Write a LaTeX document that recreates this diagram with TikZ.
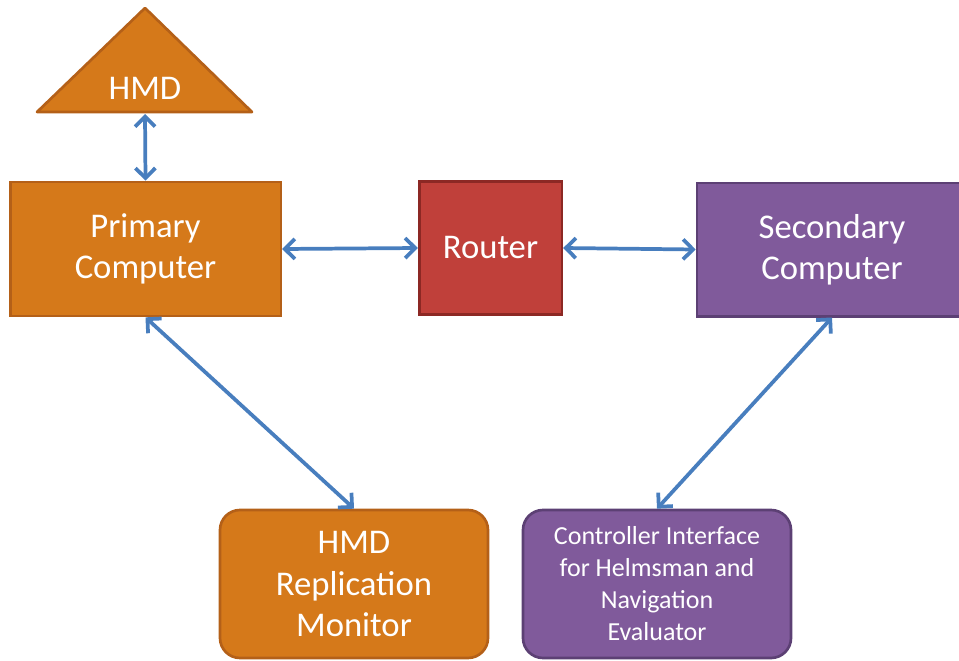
\documentclass[tikz,border=0pt]{standalone}
\usepackage{fontspec}
\setmainfont{Carlito}
\usepackage{xcolor}
\usetikzlibrary{arrows.meta,positioning}
\definecolor{hmdorange}{RGB}{213,121,26}
\definecolor{hmdorangedark}{RGB}{180,96,24}
\definecolor{routerred}{RGB}{192,64,58}
\definecolor{routerreddark}{RGB}{140,40,36}
\definecolor{pcpurple}{RGB}{128,90,155}
\definecolor{pcpurpledark}{RGB}{92,64,116}
\definecolor{linkblue}{RGB}{72,126,190}

\begin{document}
\begin{tikzpicture}[
    x=0.75pt, y=-0.75pt,
    box/.style={rectangle, draw, line width=2pt, text=white, align=center, font=\fontsize{26}{31}\selectfont},
    orangebox/.style={box, fill=hmdorange, draw=hmdorangedark},
    purplebox/.style={box, fill=pcpurple, draw=pcpurpledark},
    arrow/.style={<->, >={Straight Barb[length=7.5pt,width=15pt]}, line width=2.8pt, draw=linkblue, line cap=round, line join=round}
]
    \useasboundingbox (0,0) rectangle (959,660);
    \clip (0,0) rectangle (959,660);

    % HMD (triangle, top left)
    \filldraw[fill=hmdorange, draw=hmdorangedark, line width=2pt, line join=round] (37,112) -- (145,8) -- (252,112) -- cycle;
    \coordinate (hmdbase) at (145,114);
    \node[text=white, font=\fontsize{26}{31}\selectfont] (hmd) at (145,88) {HMD};

    % Primary Computer (left)
    \node[orangebox, minimum width=203pt, minimum height=100.5pt] (primary) at (145.5,249) {Primary\\Computer};

    % Router (center)
    \node[box, fill=routerred, draw=routerreddark, minimum width=107pt, minimum height=100pt] (router) at (490.5,248) {Router};

    % Secondary Computer (right, cut by the edge)
    \node[purplebox, minimum width=202.5pt, minimum height=100pt] (secondary) at (832,249.5) {Secondary\\Computer};

    % Bottom boxes
    \node[orangebox, rounded corners=15pt, minimum width=201pt, minimum height=111pt] (replica) at (354,584) {HMD\\Replication\\Monitor};

    \node[purplebox, rounded corners=15pt, minimum width=201pt, minimum height=111pt, font=\fontsize{19.5}{24}\selectfont] (controller) at (657,584) {Controller Interface\\for Helmsman and\\Navigation\\Evaluator};

    % Links
    \draw[arrow] (hmdbase) -- (primary.north);
    \draw[arrow] (primary.east) -- (router.west);
    \draw[arrow] (router.east) -- (secondary.west);
    \draw[arrow] (primary.south) -- (replica.north);
    \draw[arrow] (secondary.south) -- (controller.north);
\end{tikzpicture}
\end{document}
